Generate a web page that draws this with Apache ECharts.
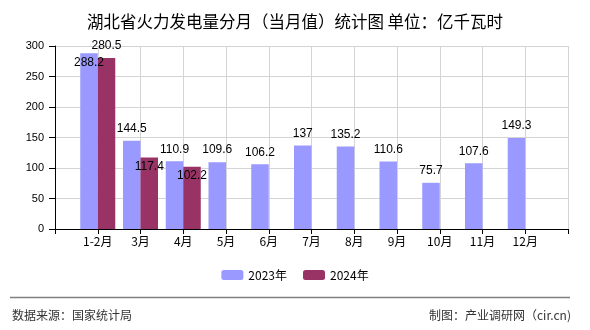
<!DOCTYPE html>
<html>
<head>
<meta charset="utf-8">
<script src="https://cdn.jsdelivr.net/npm/echarts@6/dist/echarts.min.js"></script>
<style>
html,body{margin:0;padding:0;background:#fff;}
#chart{width:590px;height:330px;}
</style>
</head>
<body>
<div id="chart"></div>
<script>
var categories = ['1-2月','3月','4月','5月','6月','7月','8月','9月','10月','11月','12月'];
var values2023 = [288.2,144.5,110.9,109.6,106.2,137,135.2,110.6,75.7,107.6,149.3];
var values2024 = [280.5,117.4,102.2,null,null,null,null,null,null,null,null];
var seriesNames = ['2023年','2024年'];
var yTicks = {min:0, max:300, interval:50};

var numFont = 'Liberation Sans, Arial, sans-serif';
var cjkFont = '"Noto Sans CJK SC", "Liberation Sans", sans-serif';

// padded axis: empty slot at each end so months sit on tick points
var axisData = [''].concat(categories).concat(['']);
function pad(arr){ return [null].concat(arr).concat([null]); }

function buildItems(arr, firstPos, restPos){
  return pad(arr).map(function(v, i){
    if (v === null) return null;
    var pos = (i === 1) ? firstPos : restPos;
    return {value: v, label: {position: pos, distance: pos === 'top' ? 6 : 3}};
  });
}

var chart = echarts.init(document.getElementById('chart'), null, {renderer:'canvas'});
chart.setOption({
  animation:false,
  backgroundColor:'#fff',
  title:{
    text:'湖北省火力发电量分月（当月值）统计图 单位：亿千瓦时',
    left:'center', top:8,
    textStyle:{fontFamily:cjkFont, fontSize:16.5, fontWeight:'normal', color:'#000'}
  },
  legend:{
    data:seriesNames, bottom:44, left:'center',
    itemWidth:22, itemHeight:10, itemGap:16,
    textStyle:{fontFamily:cjkFont, fontSize:12, color:'#000'}
  },
  grid:{left:55, right:22, top:46, bottom:101},
  xAxis:{
    type:'category', data:axisData, boundaryGap:false,
    axisLine:{lineStyle:{color:'#000', width:1}},
    axisTick:{show:true, length:5, lineStyle:{color:'#000'}, interval:0},
    axisLabel:{interval:0, margin:6, fontFamily:cjkFont, fontSize:12, color:'#000'},
    splitLine:{show:true, interval:0, lineStyle:{color:'#d4d4d4', width:1}}
  },
  yAxis:{
    type:'value', min:yTicks.min, max:yTicks.max, interval:yTicks.interval,
    axisLine:{show:true, lineStyle:{color:'#000', width:1}},
    axisTick:{show:true, length:6, lineStyle:{color:'#000'}},
    axisLabel:{margin:11, fontFamily:numFont, fontSize:11, color:'#000'},
    splitLine:{show:true, lineStyle:{color:'#d4d4d4', width:1}}
  },
  series:[
    {
      name:seriesNames[0], type:'bar', barWidth:17.5, barGap:'0%',
      itemStyle:{color:'#9999ff'},
      label:{show:true, fontFamily:numFont, fontSize:12, color:'#000'},
      data:buildItems(values2023, 'insideTop', 'top')
    },
    {
      name:seriesNames[1], type:'bar', barWidth:17.5, barGap:'0%',
      itemStyle:{color:'#993366'},
      label:{show:true, fontFamily:numFont, fontSize:12, color:'#000'},
      data:buildItems(values2024, 'top', 'insideTop')
    }
  ],
  graphic:[
    {type:'line', shape:{x1:10, y1:297.5, x2:570, y2:297.5}, style:{stroke:'#808080', lineWidth:1.5}},
    {type:'text', left:12, top:309, style:{text:'数据来源：国家统计局', font:'12px "Noto Sans CJK SC", sans-serif', fill:'#333'}},
    {type:'text', right:19, top:309, style:{text:'制图：产业调研网（cir.cn)', font:'12px "Noto Sans CJK SC", sans-serif', fill:'#333'}}
  ]
});
</script>
</body>
</html>
